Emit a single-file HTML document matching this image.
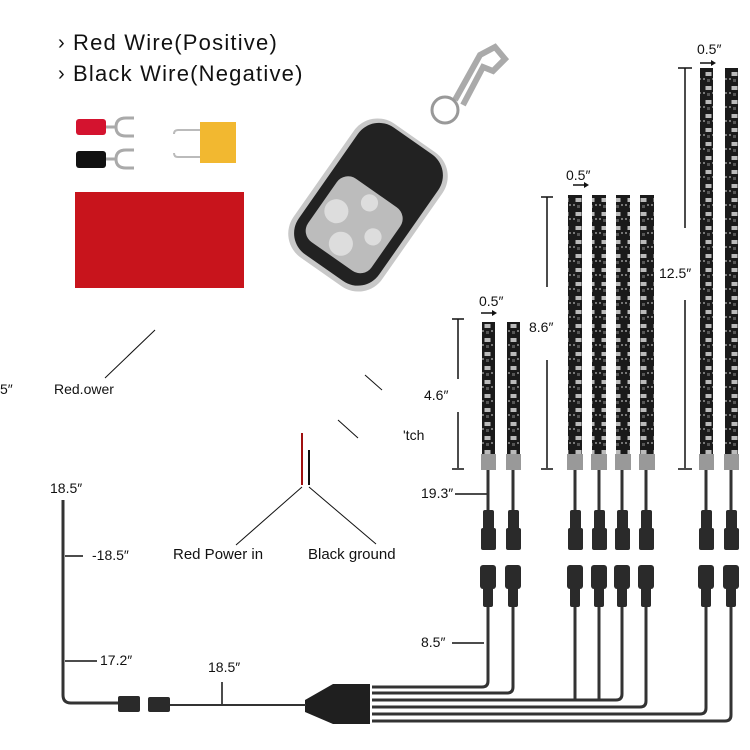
<!DOCTYPE html>
<html><head><meta charset="utf-8"><style>
body{margin:0;background:#fff}
svg{display:block}
text{font-family:"Liberation Sans",sans-serif;fill:#111}
</style></head><body>
<svg width="750" height="750" viewBox="0 0 750 750" xmlns="http://www.w3.org/2000/svg">
<defs>
<pattern id="led" x="0" y="0" width="13" height="14" patternUnits="userSpaceOnUse">
<rect width="13" height="14" fill="#1a1a1a"/>
<rect x="3.5" y="2" width="6" height="4" fill="#bbb"/>
<rect x="1" y="8" width="2" height="2" fill="#777"/><rect x="10" y="8" width="2" height="2" fill="#777"/>
<rect x="5" y="9" width="3" height="3" fill="#555"/>
</pattern>
</defs>
<text x="58" y="49" font-size="20">›</text><text x="73" y="50" font-size="22" letter-spacing="1.2">Red Wire(Positive)</text>
<text x="58" y="80" font-size="20">›</text><text x="73" y="81" font-size="22" letter-spacing="1.2">Black Wire(Negative)</text>
<rect x="76" y="119" width="30" height="16" rx="3" fill="#d4132f"/>
<path d="M106 127 h10 M116 127 q0 -9 10 -9 h8 M116 127 q0 9 10 9 h8" stroke="#aaa" stroke-width="3" fill="none"/>
<rect x="76" y="151" width="30" height="17" rx="3" fill="#111"/>
<path d="M106 159 h10 M116 159 q0 -9 10 -9 h8 M116 159 q0 9 10 9 h8" stroke="#aaa" stroke-width="3" fill="none"/>
<rect x="200" y="122" width="36" height="41" fill="#f2b830"/>
<path d="M200 130 h-22 q-4 0 -4 4 v-1 M200 157 h-22 q-4 0 -4 -4" stroke="#bbb" stroke-width="2" fill="none"/>
<rect x="75" y="192" width="169" height="96" fill="#c8141c"/>
<path d="M455 100 l25 -45 l15 -8 l10 12 l-12 12 l-10 -4 l-20 38" stroke="#aaa" stroke-width="6" fill="none"/>
<circle cx="445" cy="110" r="13" fill="none" stroke="#999" stroke-width="3"/>
<g transform="translate(368 205) scale(0.86) rotate(35) translate(-368 -205)">
<rect x="305" y="110" width="126" height="190" rx="34" fill="#c8c8c8"/>
<rect x="311" y="114" width="114" height="180" rx="30" fill="#222"/>
<rect x="323" y="188" width="90" height="90" rx="16" fill="#bcbcbc"/>
<circle cx="368" cy="202" r="10" fill="#ddd"/><circle cx="342" cy="232" r="14" fill="#ddd"/><circle cx="394" cy="232" r="10" fill="#ddd"/><circle cx="368" cy="260" r="14" fill="#ddd"/>
</g>
<text x="0" y="394" font-size="14">5″</text>
<text x="54" y="394" font-size="14">Red.ower</text>
<line x1="105" y1="378" x2="155" y2="330" stroke="#111"/>
<text x="403" y="440" font-size="14">'tch</text>
<line x1="338" y1="420" x2="358" y2="438" stroke="#111"/>
<line x1="365" y1="375" x2="382" y2="390" stroke="#111"/>
<line x1="302" y1="433" x2="302" y2="485" stroke="#a01010" stroke-width="2"/>
<line x1="309" y1="450" x2="309" y2="485" stroke="#111" stroke-width="2"/>
<line x1="302" y1="487" x2="236" y2="545" stroke="#111"/>
<line x1="309" y1="487" x2="376" y2="544" stroke="#111"/>
<text x="173" y="559" font-size="15">Red Power in</text>
<text x="308" y="559" font-size="15">Black ground</text>
<g>
<rect x="482" y="322" width="13" height="132" fill="url(#led)"/><rect x="507" y="322" width="13" height="132" fill="url(#led)"/>
<rect x="568" y="195" width="14" height="259" fill="url(#led)"/><rect x="592" y="195" width="14" height="259" fill="url(#led)"/><rect x="616" y="195" width="14" height="259" fill="url(#led)"/><rect x="640" y="195" width="14" height="259" fill="url(#led)"/>
<rect x="700" y="68" width="13" height="386" fill="url(#led)"/><rect x="725" y="68" width="13" height="386" fill="url(#led)"/>
</g>
<g fill="#999">
<rect x="481" y="454" width="15" height="16"/><rect x="506" y="454" width="15" height="16"/>
<rect x="567" y="454" width="16" height="16"/><rect x="591" y="454" width="16" height="16"/><rect x="615" y="454" width="16" height="16"/><rect x="639" y="454" width="16" height="16"/>
<rect x="699" y="454" width="15" height="16"/><rect x="724" y="454" width="15" height="16"/>
</g>
<g stroke="#111" stroke-width="1.5">
<path d="M452 319 h12 M458 319 v60 M458 412 v56 M452 469 h12"/>
<path d="M541 197 h12 M547 197 v90 M547 360 v108 M541 469 h12"/>
<path d="M678 68 h14 M685 68 v160 M685 300 v168 M678 469 h14"/>
<path d="M481 313 h12 M573 185 h12 M700 63 h12"/>
</g>
<g fill="#111"><path d="M497 313 l-5 -3 v6z"/><path d="M589 185 l-5 -3 v6z"/><path d="M716 63 l-5 -3 v6z"/></g>
<text x="479" y="306" font-size="14">0.5″</text>
<text x="566" y="180" font-size="14">0.5″</text>
<text x="697" y="54" font-size="14">0.5″</text>
<text x="424" y="400" font-size="14">4.6″</text>
<text x="529" y="332" font-size="14">8.6″</text>
<text x="659" y="278" font-size="14">12.5″</text>
<text x="421" y="498" font-size="14">19.3″</text>
<line x1="455" y1="494" x2="488" y2="494" stroke="#111" stroke-width="1.5"/>
<text x="421" y="647" font-size="14">8.5″</text>
<line x1="452" y1="643" x2="484" y2="643" stroke="#111" stroke-width="1.5"/>
<g stroke="#333" stroke-width="3" fill="none">
<path d="M488 470 v40 M513 470 v40 M575 470 v40 M599 470 v40 M622 470 v40 M646 470 v40 M706 470 v40 M731 470 v40"/>
<path d="M372 687 h110 q6 0 6 -6 v-75"/>
<path d="M372 693 h135 q6 0 6 -6 v-81"/>
<path d="M372 700 h244 q6 0 6 -6 v-88 M575 700 v-94 M599 700 v-94"/>
<path d="M372 707 h268 q6 0 6 -6 v-95"/>
<path d="M372 714 h328 q6 0 6 -6 v-102"/>
<path d="M372 721 h353 q6 0 6 -6 v-109"/>
</g>
<g fill="#2a2a2a">
<rect x="483" y="510" width="11" height="20" rx="2"/><rect x="508" y="510" width="11" height="20" rx="2"/>
<rect x="570" y="510" width="11" height="20" rx="2"/><rect x="594" y="510" width="11" height="20" rx="2"/><rect x="617" y="510" width="11" height="20" rx="2"/><rect x="641" y="510" width="11" height="20" rx="2"/>
<rect x="701" y="510" width="11" height="20" rx="2"/><rect x="726" y="510" width="11" height="20" rx="2"/>
<rect x="481" y="528" width="15" height="22" rx="2"/><rect x="506" y="528" width="15" height="22" rx="2"/>
<rect x="568" y="528" width="15" height="22" rx="2"/><rect x="592" y="528" width="15" height="22" rx="2"/><rect x="615" y="528" width="15" height="22" rx="2"/><rect x="639" y="528" width="15" height="22" rx="2"/>
<rect x="699" y="528" width="15" height="22" rx="2"/><rect x="724" y="528" width="15" height="22" rx="2"/>
<rect x="480" y="565" width="16" height="24" rx="3"/><rect x="505" y="565" width="16" height="24" rx="3"/>
<rect x="567" y="565" width="16" height="24" rx="3"/><rect x="591" y="565" width="16" height="24" rx="3"/><rect x="614" y="565" width="16" height="24" rx="3"/><rect x="638" y="565" width="16" height="24" rx="3"/>
<rect x="698" y="565" width="16" height="24" rx="3"/><rect x="723" y="565" width="16" height="24" rx="3"/>
<rect x="483" y="587" width="10" height="20" rx="2"/><rect x="508" y="587" width="10" height="20" rx="2"/>
<rect x="570" y="587" width="10" height="20" rx="2"/><rect x="594" y="587" width="10" height="20" rx="2"/><rect x="617" y="587" width="10" height="20" rx="2"/><rect x="641" y="587" width="10" height="20" rx="2"/>
<rect x="701" y="587" width="10" height="20" rx="2"/><rect x="726" y="587" width="10" height="20" rx="2"/>
</g>
<path d="M305 700 L333 684 H370 V724 H333 L305 712 Z" fill="#1f1f1f"/>
<path d="M63 500 V695 q0 8 8 8 H120" stroke="#333" stroke-width="3" fill="none"/>
<rect x="118" y="696" width="22" height="16" rx="2" fill="#2a2a2a"/>
<rect x="148" y="697" width="22" height="15" rx="2" fill="#2a2a2a"/>
<line x1="170" y1="705" x2="306" y2="705" stroke="#333" stroke-width="2"/>
<g stroke="#111" stroke-width="1.5"><path d="M65 556 h18 M65 661 h32 M222 682 v22"/></g>
<text x="50" y="493" font-size="14">18.5″</text>
<text x="92" y="560" font-size="14">-18.5″</text>
<text x="100" y="665" font-size="14">17.2″</text>
<text x="208" y="672" font-size="14">18.5″</text>
</svg>
</body></html>
